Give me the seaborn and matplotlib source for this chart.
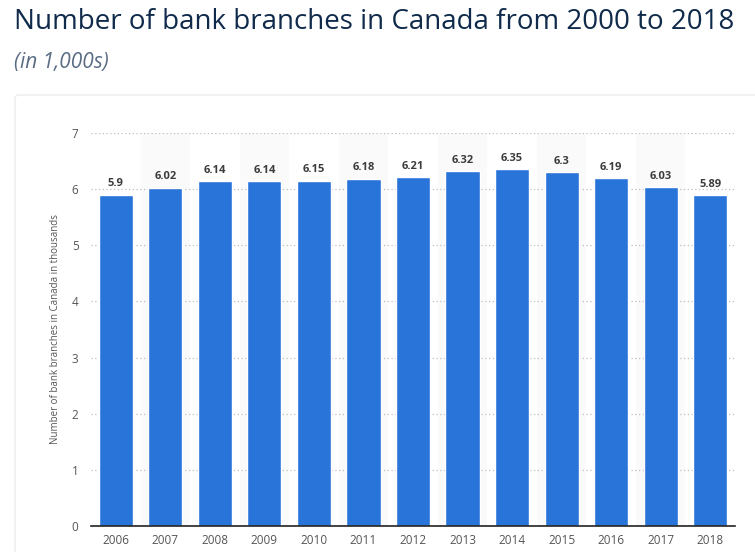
import matplotlib.pyplot as plt
import matplotlib.patches as mpatches
import pandas as pd
import seaborn as sns

years = ["2006", "2007", "2008", "2009", "2010", "2011", "2012",
         "2013", "2014", "2015", "2016", "2017", "2018"]
branches = [5.9, 6.02, 6.14, 6.14, 6.15, 6.18, 6.21, 6.32, 6.35, 6.3, 6.19, 6.03, 5.89]
labels = ["5.9", "6.02", "6.14", "6.14", "6.15", "6.18", "6.21",
          "6.32", "6.35", "6.3", "6.19", "6.03", "5.89"]


def plot():
    df = pd.DataFrame({"Year": years, "Branches": branches})

    sns.set_style("white")
    plt.rcParams['font.family'] = ['Open Sans', 'DejaVu Sans']

    fig = plt.figure(figsize=(7.55, 5.52), dpi=100)
    fig.patch.set_facecolor("white")

    # card behind the chart
    card = mpatches.FancyBboxPatch((15 / 755, -0.05), 745 / 755, 1 - 95 / 552 + 0.05,
                                   boxstyle="round,pad=0,rounding_size=0.006",
                                   transform=fig.transFigure, facecolor="white",
                                   edgecolor="#ececec", linewidth=1.0, zorder=-10)
    fig.add_artist(card)

    ax = fig.add_axes([91 / 755, 1 - 526 / 552, 644 / 755, 393 / 552])
    ax.set_facecolor("none")
    ax.set_zorder(2)

    for i in range(1, len(years), 2):
        ax.axvspan(i - 0.5, i + 0.5, ymin=0, ymax=1, color="#fafafa", zorder=0, lw=0)

    sns.barplot(data=df, x="Year", y="Branches", color="#2874d9",
                width=0.69, saturation=1, ax=ax, zorder=3)

    for i, (v, t) in enumerate(zip(branches, labels)):
        ax.text(i, v + 0.1, t, ha="center", va="bottom", fontsize=8,
                fontweight="bold", color="#3c3c3c", zorder=4)

    ax.set_ylim(0, 7)
    ax.set_xlim(-0.5, len(years) - 0.5)
    ax.set_yticks(range(0, 8))
    ax.yaxis.grid(True, linestyle=(0, (1, 2)), color="#bdbdbd", linewidth=0.9, zorder=1)
    ax.set_axisbelow(True)
    for s in ["top", "right", "left"]:
        ax.spines[s].set_visible(False)
    ax.spines["bottom"].set_color("#222222")
    ax.spines["bottom"].set_linewidth(1.2)
    ax.spines["bottom"].set_zorder(5)
    ax.tick_params(axis="both", length=0, labelsize=8.5, colors="#555555")
    ax.tick_params(axis="y", pad=9)
    ax.tick_params(axis="x", pad=6)
    ax.set_xlabel("")
    ax.set_ylabel("Number of bank branches in Canada in thousands", fontsize=7,
                  color="#555555", labelpad=8)

    fig.text(14 / 755, 1 - 22 / 552, "Number of bank branches in Canada from 2000 to 2018",
             fontsize=20, color="#0f2a4a", va="center", ha="left")
    fig.text(14 / 755, 1 - 62 / 552, "(in 1,000s)", fontsize=15, color="#5a6d85",
             style="italic", va="center", ha="left")

    plt.savefig("out.png", dpi=100)


if __name__ == '__main__':
    plot()
